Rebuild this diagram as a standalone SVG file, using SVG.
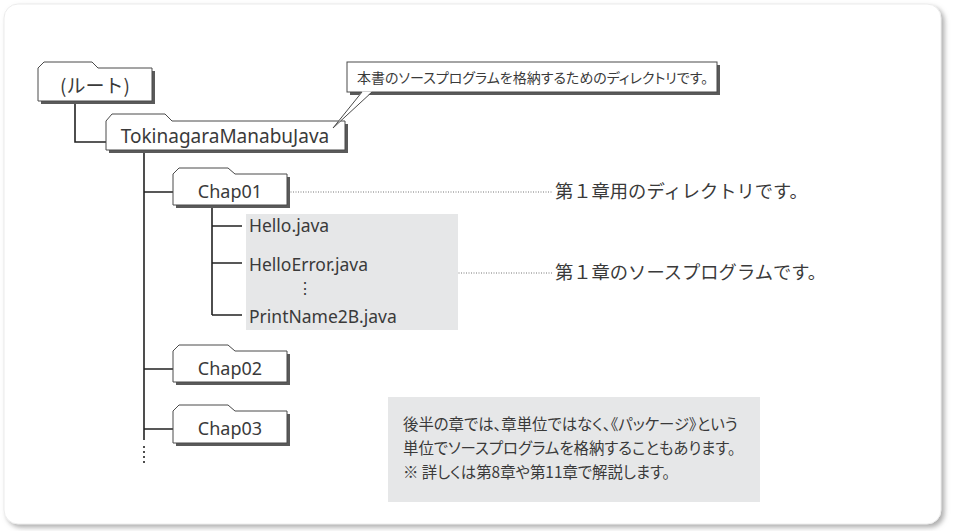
<svg xmlns="http://www.w3.org/2000/svg" width="954" height="531" viewBox="0 0 954 531">
<defs>
<filter id="fs" x="-5%" y="-5%" width="110%" height="110%">
<feDropShadow dx="3" dy="3" stdDeviation="2.5" flood-color="#9a9a9a" flood-opacity="0.8"/>
</filter>
</defs>
<style>
.jp{font-family:"Noto Sans CJK JP","Noto Sans",sans-serif;fill:#3a3a3a}
.pj{font-family:"Noto Sans CJK JP","Noto Sans",sans-serif;fill:#3a3a3a;font-feature-settings:"palt"}
.lt{font-family:"Noto Sans","Noto Sans CJK JP",sans-serif;fill:#3a3a3a}
.fold{fill:#fff;stroke:#4a4a4a;stroke-width:1}
.shad{fill:#5a5a5a}
.ln{stroke:#222;stroke-width:1.6;fill:none}
.dot{stroke:#777;stroke-width:1;stroke-dasharray:1 1.5;fill:none}
.bul{fill:#222}
</style>
<rect x="4" y="4" width="937" height="520" rx="14" fill="#fff" stroke="#ececec" filter="url(#fs)"/>

<g id="connectors">
<path class="ln" d="M75,101 V142 H106"/>
<path class="ln" d="M144,150 V440"/>
<path class="ln" d="M144,446 V466" stroke-dasharray="2 3"/>
<path class="ln" d="M144,192 H173 M144,369 H173 M144,429 H173"/>
<path class="ln" d="M212,205 V315 M212,226 H242 M212,263 H242 M212,315 H242"/>
<path class="dot" d="M288,192 H552"/>
<circle class="bul" cx="287" cy="192" r="2.2"/>
<path class="dot" d="M456,273 H552"/>
<circle class="bul" cx="455" cy="273" r="2.2"/>
</g>

<g id="root">
<path class="shad" d="M41,104 V71 L47,65 H95 L101,71 H155 V104 Z"/>
<path class="fold" d="M38,101 V68 L44,62 H92 L98,68 H152 V101 Z"/>
<text class="jp" x="95" y="93" font-size="19" text-anchor="middle">(ルート)</text>
</g>

<g id="tokinagara">
<path class="shad" d="M109,153 V124 L115,117 H168 L175,124 H348 V153 Z"/>
<path class="fold" d="M106,150 V121 L112,114 H165 L172,121 H345 V150 Z"/>
<text class="lt" x="225" y="143" font-size="19" text-anchor="middle">TokinagaraManabuJava</text>
</g>

<g id="callout">
<rect x="350" y="65" width="370" height="30" fill="#5a5a5a"/>
<rect x="347" y="62" width="370" height="30" fill="#fff" stroke="#4a4a4a"/>
<path d="M362,91.5 L372,91.5 L333,128 Z" fill="#fff"/>
<path d="M362,92 L333,128 L372,92" fill="none" stroke="#4a4a4a" stroke-width="1"/>
<text class="pj" x="357" y="83" font-size="14">本書のソースプログラムを格納するためのディレクトリです。</text>
</g>

<g id="chap01">
<path class="shad" d="M176,208 V177 L182,171 H231 L238,177 H290 V208 Z"/>
<path class="fold" d="M173,205 V174 L179,168 H228 L235,174 H287 V205 Z"/>
<text class="lt" x="230" y="198" font-size="18" text-anchor="middle">Chap01</text>
</g>

<g id="note1">
<text class="jp" x="555" y="198" font-size="18.3">第１章用のディレクトリです。</text>
</g>

<g id="files">
<rect x="246" y="214" width="212" height="116" fill="#e6e7e8"/>
<text class="lt" x="249" y="232" font-size="17.5">Hello.java</text>
<text class="lt" x="249" y="271" font-size="17.5">HelloError.java</text>
<text class="lt" x="305" y="294" font-size="16" text-anchor="middle">⋮</text>
<text class="lt" x="249" y="323" font-size="17.5">PrintName2B.java</text>
</g>

<g id="note2">
<text class="jp" x="555" y="279" font-size="18.3">第１章のソースプログラムです。</text>
</g>

<g id="chap02">
<path class="shad" d="M176,385 V354 L182,348 H231 L238,354 H290 V385 Z"/>
<path class="fold" d="M173,382 V351 L179,345 H228 L235,351 H287 V382 Z"/>
<text class="lt" x="230" y="375" font-size="18" text-anchor="middle">Chap02</text>
</g>

<g id="chap03">
<path class="shad" d="M176,446 V414 L182,408 H231 L238,414 H290 V446 Z"/>
<path class="fold" d="M173,443 V411 L179,405 H228 L235,411 H287 V443 Z"/>
<text class="lt" x="230" y="435" font-size="18" text-anchor="middle">Chap03</text>
</g>

<g id="note3">
<rect x="388" y="397" width="372" height="105" fill="#e6e7e8"/>
<text class="pj" x="403" y="430" font-size="15.4">後半の章では、章単位ではなく、《パッケージ》という</text>
<text class="pj" x="403" y="454" font-size="15.4">単位でソースプログラムを格納することもあります。</text>
<text class="pj" x="403" y="478" font-size="15.4">※ 詳しくは第8章や第11章で解説します。</text>
</g>
</svg>
